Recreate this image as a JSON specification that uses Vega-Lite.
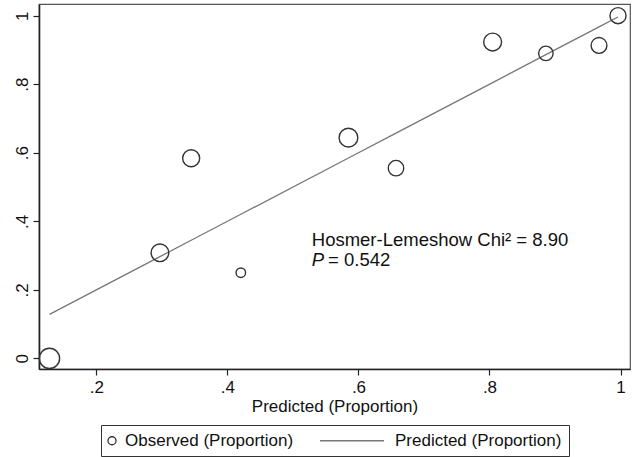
{
  "$schema": "https://vega.github.io/schema/vega-lite/v6.json",
  "width": 591,
  "height": 365,
  "autosize": {"type": "none"},
  "padding": {"left": 39, "top": 4, "right": 2, "bottom": 88},
  "background": "white",
  "config": {
    "font": "Liberation Sans",
    "view": {"stroke": "#555", "strokeWidth": 1.2},
    "axis": {
      "grid": false,
      "domainColor": "#222",
      "domainWidth": 1.6,
      "tickColor": "#222",
      "tickWidth": 1.2,
      "tickSize": 6,
      "labelFont": "Liberation Sans",
      "labelFontSize": 17,
      "labelColor": "#111",
      "titleFont": "Liberation Sans",
      "titleFontSize": 17,
      "titleFontWeight": "normal",
      "titleColor": "#111"
    }
  },
  "datasets": {
    "groups": [
      {"pred": 0.1283, "obs": 0.0, "n": 41, "series": "Observed (Proportion)"},
      {"pred": 0.2969, "obs": 0.308, "n": 31, "series": "Observed (Proportion)"},
      {"pred": 0.3446, "obs": 0.584, "n": 29, "series": "Observed (Proportion)"},
      {"pred": 0.4204, "obs": 0.25, "n": 9, "series": "Observed (Proportion)"},
      {"pred": 0.5847, "obs": 0.644, "n": 35, "series": "Observed (Proportion)"},
      {"pred": 0.6573, "obs": 0.555, "n": 24, "series": "Observed (Proportion)"},
      {"pred": 0.8048, "obs": 0.923, "n": 32, "series": "Observed (Proportion)"},
      {"pred": 0.8861, "obs": 0.89, "n": 21, "series": "Observed (Proportion)"},
      {"pred": 0.9672, "obs": 0.913, "n": 25, "series": "Observed (Proportion)"},
      {"pred": 0.9962, "obs": 1.0, "n": 26, "series": "Observed (Proportion)"}
    ],
    "notes": [
      {"label": "Hosmer-Lemeshow Chi² = 8.90", "nx": 0.5287, "ny": 0.344, "italic": false},
      {"label": "P", "nx": 0.5287, "ny": 0.286, "italic": true},
      {"label": "= 0.542", "nx": 0.5535, "ny": 0.286, "italic": false}
    ]
  },
  "layer": [
    {
      "data": {"name": "groups"},
      "mark": {"type": "line", "color": "#777", "strokeWidth": 1.3},
      "encoding": {
        "x": {"field": "pred", "type": "quantitative", "scale": {"domain": [0.1123, 1.0145], "nice": false, "zero": false},
          "axis": {"values": [0.2, 0.4, 0.6, 0.8, 1], "title": "Predicted (Proportion)", "labelPadding": 4, "titlePadding": 3,
            "labelExpr": "datum.value == 1 ? '1' : '.' + round(datum.value * 10)"}},
        "y": {"field": "pred", "type": "quantitative", "scale": {"domain": [-0.031, 1.034], "nice": false, "zero": false},
          "axis": {"values": [0, 0.2, 0.4, 0.6, 0.8, 1], "title": null, "labelAngle": -90, "labelPadding": 2,
            "labelExpr": "datum.value == 0 ? '0' : datum.value == 1 ? '1' : '.' + round(datum.value * 10)"}}
      }
    },
    {
      "data": {"name": "groups"},
      "mark": {"type": "point", "filled": false, "color": "#333", "strokeWidth": 1.4, "opacity": 1},
      "encoding": {
        "x": {"field": "pred", "type": "quantitative"},
        "y": {"field": "obs", "type": "quantitative"},
        "size": {"field": "n", "type": "quantitative", "scale": {"domain": [0, 40], "range": [0, 400], "zero": true}, "legend": null},
        "shape": {
          "field": "series", "type": "nominal",
          "scale": {"domain": ["Observed (Proportion)", "Predicted (Proportion)"], "range": ["circle", "stroke"]},
          "legend": {
            "title": null,
            "orient": "none",
            "legendX": 62,
            "legendY": 421,
            "direction": "horizontal",
            "strokeColor": "#333",
            "padding": 7,
            "columnPadding": 23,
            "labelFont": "Liberation Sans",
            "labelFontSize": 17,
            "labelColor": "#111",
            "labelLimit": 0,
            "symbolSize": 64,
            "symbolStrokeColor": "#333",
            "symbolFillColor": "transparent",
            "symbolStrokeWidth": 1.3,
            "encoding": {
              "symbols": {
                "size": {"value": {"expr": "datum.value === 'Predicted (Proportion)' ? 4096 : 64"}},
                "x": {"value": {"expr": "datum.value === 'Predicted (Proportion)' ? 32 : 4"}},
                "stroke": {"value": {"expr": "datum.value === 'Predicted (Proportion)' ? '#777' : '#333'"}}
              },
              "labels": {
                "x": {"value": {"expr": "datum.value === 'Predicted (Proportion)' ? 75 : 17"}}
              }
            }
          }
        }
      }
    },
    {
      "data": {"name": "notes"},
      "transform": [{"filter": "!datum.italic"}],
      "mark": {"type": "text", "align": "left", "baseline": "middle", "fontSize": 18.5, "font": "Liberation Sans", "color": "#111"},
      "encoding": {
        "x": {"field": "nx", "type": "quantitative"},
        "y": {"field": "ny", "type": "quantitative"},
        "text": {"field": "label"}
      }
    },
    {
      "data": {"name": "notes"},
      "transform": [{"filter": "datum.italic"}],
      "mark": {"type": "text", "align": "left", "baseline": "middle", "fontSize": 18.5, "fontStyle": "italic", "font": "Liberation Sans", "color": "#111"},
      "encoding": {
        "x": {"field": "nx", "type": "quantitative"},
        "y": {"field": "ny", "type": "quantitative"},
        "text": {"field": "label"}
      }
    }
  ]
}
